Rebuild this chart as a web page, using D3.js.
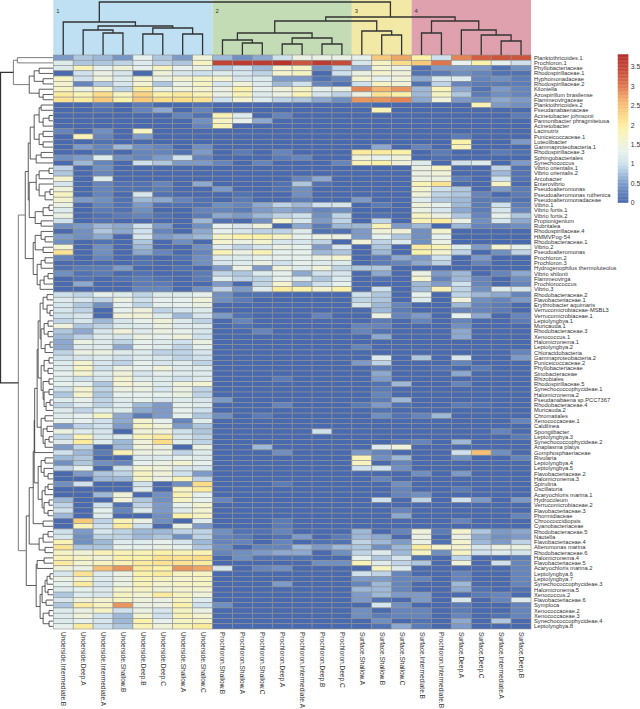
<!DOCTYPE html>
<html><head><meta charset="utf-8">
<script src="https://cdn.jsdelivr.net/npm/d3@7"></script>
<style>html,body{margin:0;padding:0;background:#fff}svg{display:block}text{font-family:"Liberation Sans",Arial,sans-serif;fill:#333}</style>
</head><body><div id="c"></div>
<script>
const colLabels=["Underside.Intermediate.B","Underside.Deep.A","Underside.Intermediate.A","Underside.Shallow.B","Underside.Deep.B","Underside.Deep.C","Underside.Shallow.A","Underside.Shallow.C","Prochloron.Shallow.B","Prochloron.Shallow.A","Prochloron.Shallow.C","Prochloron.Deep.A","Prochloron.Intermediate.A","Prochloron.Deep.B","Prochloron.Deep.C","Surface.Shallow.A","Surface.Shallow.B","Surface.Shallow.C","Surface.Intermediate.B","Prochloron.Intermediate.B","Surface.Deep.A","Surface.Deep.C","Surface.Intermediate.A","Surface.Deep.B"];
const rowLabels=["Planktothricoides.1","Prochloron.1","Phyllobacteriaceae","Rhodospirillaceae.1","Hyphomonadaceae","Rhodospirillaceae.2","Kiloniella","Azospirillum brasilense","Flammeovirgaceae","Planktothricoides.2","Pseudanabaenaceae","Acinetobacter johnsonii","Pannonibacter phragmitetusa","Acinetobacter","Lacinutrix","Puniceicoccaceae.1","Luteolibacter","Gammaproteobacteria.1","Rhodospirillaceae.3","Sphingobacteriales","Synechococcus","Vibrio orientalis.1","Vibrio orientalis.2","Arcobacter","Enterovibrio","Pseudoalteromonas","Pseudoalteromonas ruthenica","Pseudoalteromonadaceae","Vibrio.1","Vibrio fortis.1","Vibrio fortis.2","Propionigenium","Rubritalea","Rhodospirillaceae.4","HMMVPog-54","Rhodobacteraceae.1","Vibrio.2","Pseudoalteromonas","Prochloron.2","Prochloron.3","Hydrogenophilus thermoluteolus","Vibrio shilonii","Flammeovirga","Prochlorococcus","Vibrio.3","Rhodobacteraceae.2","Flavobacteriaceae.1","Erythrobacter aquimaris","Verrucomicrobiaceae-MSBL3","Verrucomicrobiaceae.1","Leptolyngbya.1","Muricauda.1","Rhodobacteraceae.3","Xenococcus.1","Halomicronema.1","Leptolyngbya.2","Chloracidobacteria","Gammaproteobacteria.2","Puniceicoccaceae.2","Phyllobacteriaceae","Sinobacteraceae","Rhizobiales","Rhodospirillaceae.5","Synechococcophycideae.1","Halomicronema.2","Pseudanabaena sp.PCC7367","Rhodobacteraceae.4","Muricauda.2","Chromatiales","Xenococcaceae.1","Caldilinea","Spongiibacter","Leptolyngbya.3","Synechococcophycideae.2","Anaplasma platys","Gomphosphaeriaceae","Rivularia","Leptolyngbya.4","Leptolyngbya.5","Flavobacteriaceae.2","Halomicronema.3","Spirulina","Oscillatoria","Acaryochloris marina.1","Hydrocoleum","Verrucomicrobiaceae.2","Flavobacteriaceae.3","Phormidiaceae","Chroococcidiopsis","Cyanobacteriaceae","Rhodobacteraceae.5","Nautella","Flavobacteriaceae.4","Alteromonas marina","Rhodobacteraceae.6","Halomicronema.4","Flavobacteriaceae.5","Acaryochloris marina.2","Leptolyngbya.6","Leptolyngbya.7","Synechococcophycideae.3","Halomicronema.5","Xenococcus.2","Flavobacteriaceae.6","Symploca","Xenococcaceae.2","Xenococcaceae.3","Synechococcophycideae.4","Leptolyngbya.8"];
const values=[
[.5,.8,.7,.45,1.3,.8,.5,1.5,.7,.4,.6,1,1.4,1.4,1.4,1.3,2.4,2.7,1.9,1,2.9,3.2,3.3,3.3],
[1.2,.8,.8,.9,1.2,.9,.8,1.7,3.5,3.6,3.6,3.7,3.3,3.6,3.4,1.1,1.7,2.2,2.4,3,1.3,1.9,1.3,1],
[1.2,1.8,1.3,1.5,1.3,1.7,1.3,1.4,.8,1,.7,1.6,1.7,.4,.9,.6,1.6,1.4,.1,.5,.5,.5,.1,.4],
[0,1,1.4,1.1,0,1.5,1.1,1,1.2,1.1,.9,1.6,1.7,0,1,1.4,1.6,1.5,.1,.2,.4,.3,.1,.1],
[1.7,1,1.5,1.2,1.6,1.4,1.6,1.7,1.6,1.1,1.2,.5,.5,.1,.3,1.6,1.3,1.5,.6,1.1,1.2,.3,.4,.2],
[1.6,.3,.8,1.1,1.6,.8,1.4,1.7,1.1,1.5,1.2,.7,1,.3,.1,1,1.7,1.5,.1,.9,.3,.2,.2,.2],
[1.7,1.4,1.6,.9,2,1.4,1.5,1.6,1.4,1.9,1.3,1.5,1.7,1.3,1.4,2.9,2.6,2.8,.7,1.8,.6,.1,.5,.3],
[2,1.8,2.2,1.7,2.3,1.9,2,1.8,1.4,1.8,1.2,1.4,1.8,1.1,.9,1.4,2.1,1.9,.7,1.7,.8,.2,.4,.3],
[2.1,2,2.4,1.9,2.4,2.2,2.2,2.1,1,1.6,1.2,.9,.8,.6,.4,2.8,2.8,2.9,.6,1.5,.5,.4,.6,.5],
[0,0,.2,0,.2,0,0,.1,0,0,0,0,0,0,0,.1,0,0,0,0,0,1.8,.5,.4],
[0,0,.1,0,.3,.6,0,.3,0,0,0,0,0,0,0,0,1.8,0,0,0,0,0,0,0],
[0,0,0,0,0,0,.3,.1,1.8,1.2,0,.3,0,0,0,0,0,0,0,0,0,0,0,.2],
[0,0,0,0,0,0,0,.4,1.7,1.3,.6,0,0,0,0,0,0,0,0,0,0,0,0,0],
[0,0,0,0,0,0,0,.3,1.8,0,0,0,0,0,0,0,0,0,0,0,0,0,0,0],
[.3,0,.4,0,1.7,0,0,0,0,0,0,0,0,0,0,0,0,0,0,0,0,0,0,0],
[0,1.8,.3,0,.5,0,0,0,0,0,0,0,0,0,0,0,0,0,0,0,.2,0,0,0],
[0,0,.1,0,0,0,0,0,0,0,0,0,0,0,0,0,0,0,0,0,1.9,0,0,.5],
[0,.5,.3,.7,.4,.3,0,.4,0,0,0,0,0,0,0,0,.6,0,.3,0,1.8,0,0,0],
[0,0,.2,0,.3,.3,.1,.5,0,.2,0,.3,0,0,0,2,2,1.9,0,.2,0,0,.2,.1],
[.4,.5,1.2,.4,.3,.5,1,.3,0,0,0,.2,.3,0,0,1.5,1.3,1.5,0,.1,0,0,0,0],
[0,.7,.3,0,1,.8,.5,.5,.3,0,.3,0,0,0,.3,1.8,1.9,1.5,1.2,0,1,1.2,0,.5],
[.9,0,.4,0,0,0,0,0,0,0,0,0,0,0,0,0,0,0,1.4,1.7,0,0,.9,.1],
[.8,0,.3,0,0,0,0,0,0,0,0,0,0,0,0,0,0,0,1.4,1.5,0,0,.7,.1],
[1.6,0,1.2,0,0,0,0,0,0,0,0,0,.3,.6,0,0,0,0,1.4,1.4,.2,0,1,.1],
[1.1,0,.3,.1,.1,.3,0,.6,0,0,0,.1,.8,.1,0,0,0,0,1.8,2.1,0,0,1.7,0],
[1.5,0,.3,.1,.1,.2,0,0,.5,0,0,.1,.4,0,0,0,0,0,1.6,1,.8,0,.5,.2],
[1.7,0,.3,0,1.1,.1,0,0,0,.1,0,0,.4,0,0,0,0,0,1.5,.9,.8,.3,0,.2],
[1.6,.5,.4,.1,.7,.6,.3,.1,0,.2,0,0,.2,0,0,.5,0,0,1.2,.8,.7,.2,.2,.1],
[1.4,0,.3,.1,.5,.1,.1,.1,.4,.3,.6,.9,.7,1,1.1,0,.2,0,1.5,1.3,.7,.2,1,.2],
[1.2,0,.2,.1,.4,0,0,.3,.3,.2,.5,.6,.5,.3,.4,0,0,0,1.4,1.1,.6,.2,1.1,.3],
[1.4,0,.1,.2,.3,.1,0,.2,.6,.5,.7,.9,1,.4,.9,0,.1,0,1.7,1.4,.8,.3,1.3,.8],
[1,0,.1,0,0,0,0,.7,.1,0,.4,1.6,1.1,.5,.9,0,.9,0,1.8,2,1.4,.4,1.1,.6],
[.4,.5,.7,.6,1,.5,0,.4,1.3,1.1,1.5,0,.6,.2,.7,.7,1.8,.5,.7,0,.7,.3,.3,.4],
[0,.4,.8,.6,1,.3,0,.6,1.3,1.1,.9,.9,1.2,.1,.1,.5,1.5,1.5,.4,1.6,0,0,0,0],
[.5,.4,.6,0,1.1,.5,.6,.7,1.7,1.9,1.9,1.7,1.3,1.4,1.4,.5,1.3,.8,.4,1.3,0,0,0,0],
[.4,0,.1,0,.8,0,.4,0,1.6,1.4,1.6,1.1,1.1,.9,0,1.5,.9,1.2,.4,1.4,0,0,0,0],
[1.6,0,.4,0,.7,0,0,.4,1.2,.9,1.1,1.4,1.3,.5,1.1,0,.8,0,2,1.8,1.2,.5,1.6,1.3],
[2.1,0,.4,0,.6,.3,0,.3,1.8,1.4,1.8,1.3,1.3,.7,.8,0,.7,0,1.9,1.6,.9,0,.4,.9],
[.3,0,.3,0,.1,0,.1,.4,1.2,1.2,1.3,1.3,1.3,1.4,1.6,0,.2,.6,.5,1,0,.5,0,0],
[0,0,0,0,.1,0,0,.4,1.1,1.2,1.4,1,1.3,1.2,1.2,0,.2,.3,.6,.9,0,.3,0,0],
[.1,.2,.2,.5,0,0,.1,0,.5,1.4,.5,1.5,1.2,1.5,.9,.8,.8,0,0,0,0,0,0,0],
[.4,.1,.2,0,.1,0,0,.2,.9,.8,1.2,1.3,.6,1,1.1,0,.6,0,1.4,.5,.7,0,.3,.6],
[0,.1,0,.1,.2,.1,0,.2,1.2,.9,.9,1.3,1.2,.8,1.2,0,.1,0,1.6,.3,.7,.3,0,.4],
[0,.6,0,0,.2,.2,0,0,.5,0,.9,1.6,.7,1,1.3,0,0,0,.7,.5,1,.3,0,.3],
[0,0,0,0,.3,.3,0,.4,.9,.5,1.2,2,1.9,1.6,1.9,0,1,0,.7,1.8,.9,.4,1.2,1.1],
[1,.9,1.3,1.2,.9,1.2,1.2,1.3,.4,.1,.1,0,0,0,0,1,.8,0,1.3,0,.9,.7,.6,.3],
[1.2,1.1,.9,1.4,1,1.3,1.3,1.5,.4,.2,0,0,0,0,0,.9,.8,0,1.2,0,1.5,.4,.3,.5],
[1.1,.8,.4,1.3,.9,1.3,1.3,1.4,0,0,0,0,0,0,0,1.1,.7,.3,0,0,.7,.3,.2,0],
[1.1,.9,0,1.3,1.5,.9,1.1,1.2,0,0,0,0,0,0,0,0,.7,.2,0,0,.3,.3,.2,0],
[1,1.1,0,1.5,1.5,1.2,.7,1.1,.5,.1,0,0,0,.3,0,0,1.4,.3,.5,0,1.3,.6,0,.3],
[.9,1.1,.7,1.1,1.3,1.5,1.2,.9,0,.3,0,0,0,0,0,0,.2,0,.3,0,.3,0,0,.2],
[1.5,.8,.9,1.2,1.2,1.4,1.2,1.2,0,.1,0,0,0,0,0,.3,.3,0,0,0,.4,0,0,0],
[.8,.6,1.1,1.5,1.2,1.4,1.3,1.1,0,0,.3,0,0,0,0,.3,.1,0,0,0,.6,0,0,0],
[.7,.9,1.2,1.1,1.4,1.3,1.5,1,0,0,0,0,0,0,0,0,.6,0,0,0,.6,0,0,0],
[.6,1.4,1.2,.9,1.3,1.2,1,1.4,0,0,0,0,0,0,0,0,0,0,0,0,0,0,0,0],
[.6,1.2,1.2,.6,1.3,1.2,.9,1.3,0,0,0,0,0,0,0,.3,0,0,0,0,0,0,0,0],
[.9,1.4,1.4,1.2,1.2,.9,.9,1.1,0,0,0,0,0,0,0,0,0,0,0,0,0,0,0,.3],
[1,1.1,1.2,1,1.2,1.1,.9,1,0,0,0,0,0,0,0,0,1.2,0,.8,0,1.1,0,0,.5],
[1.2,1.6,1.1,.9,1.3,1.1,1.2,.9,0,0,0,0,0,0,0,.5,.9,0,0,0,.3,0,0,0],
[1.2,1.7,1,1.4,1.3,1.5,1.2,1.2,0,0,0,0,0,0,0,0,.2,0,0,.1,0,.2,0,0],
[1.3,1.6,1.2,1.5,1.1,1.3,1.2,1.2,0,0,0,0,0,0,0,0,.6,0,0,0,.6,0,0,0],
[1.2,1,1.1,1.6,1.2,1.2,1,1.2,0,0,0,.2,0,0,0,0,.5,0,0,0,0,0,0,0],
[1.3,1.3,.8,1.6,1.4,1.2,1.5,1.6,0,0,0,0,0,0,0,0,.1,.7,0,0,.3,0,0,0],
[1,1.6,.9,1.4,1.4,1.1,1.4,.9,0,0,0,0,0,0,0,0,.2,0,0,0,0,0,0,0],
[.8,1.6,.8,1.3,1.3,1.3,1.4,.9,0,0,0,0,0,0,0,0,.3,0,0,0,0,0,0,0],
[1.2,1.3,.9,1.2,1.3,1.1,1.2,1.1,.5,0,0,0,0,0,0,0,.2,.7,0,0,0,0,0,0],
[.9,1.2,.9,1.2,.7,.5,1.3,1.2,0,0,0,.3,0,0,0,.2,.5,.1,0,0,.2,.1,0,0],
[1.2,.9,1.2,1.2,.6,.5,1.3,1,0,0,0,0,0,0,0,0,.1,0,0,0,0,0,0,0],
[1.2,1.3,1.7,.6,.2,.5,1.3,.8,.4,0,.2,0,0,0,0,0,.4,.1,.3,.7,0,0,0,0],
[1.3,1.3,1,.6,1.6,1.3,.3,1.2,0,0,0,0,0,0,0,0,0,0,0,0,0,0,0,.3],
[.5,.9,1,.5,1.7,1.5,.5,.8,0,0,0,0,0,0,0,0,0,0,0,0,0,0,0,0],
[1.4,1.2,1.1,0,1.5,1.5,1,.8,0,0,0,0,0,1,0,0,0,0,0,0,0,0,.3,0],
[.9,1.8,1.1,1.2,1.8,2,1.1,.9,0,0,0,0,0,0,0,0,0,0,0,0,0,0,0,.2],
[1.2,2,1.2,.7,1.5,2.2,1.2,.9,0,0,0,0,0,0,0,0,0,.2,.3,0,.7,0,0,0],
[.5,.9,0,.7,1.5,1.4,0,1.4,0,0,.7,0,0,0,0,0,1.2,1.5,0,0,0,0,0,0],
[1,.7,.2,1.8,1.4,1.4,.9,1.2,0,0,0,.4,0,0,0,.5,.3,0,0,0,1,2.5,.4,0],
[.7,.8,0,0,1.2,1.2,1.3,1.2,0,0,0,0,0,0,0,1.8,.4,.7,0,0,.4,0,0,.3],
[.4,.8,.4,.3,1.3,1.4,1.6,1.3,0,0,0,0,0,0,0,1.7,0,.3,0,0,0,0,0,0],
[.9,1.3,0,1,1.6,1.5,1.1,1.1,0,0,0,0,0,0,0,1,1,.4,0,0,0,0,0,0],
[0,.5,.8,.9,1.7,1.5,1,.5,0,0,0,0,0,0,0,0,0,0,.4,0,.5,0,0,0],
[0,0,.7,.7,1.7,1.4,1.8,.9,0,0,0,0,0,0,0,0,.3,0,0,0,0,0,0,0],
[.4,1,0,0,1,0,.4,2.2,0,0,0,.2,0,0,0,0,0,.4,0,0,0,0,0,0],
[0,0,0,0,1.2,0,1.7,2,0,0,0,0,0,0,0,0,0,.3,0,0,.2,0,0,0],
[0,0,.7,1.5,0,.4,1.8,1.3,0,0,0,0,0,0,0,0,0,.3,.4,0,0,0,0,0],
[.7,0,0,1.5,.8,.4,1.7,1.3,.3,0,0,0,0,0,0,0,1,0,.9,0,1,.5,0,.5],
[.9,0,1,.1,.9,.5,1.3,1.6,0,0,0,0,0,0,0,0,0,0,0,0,0,0,0,0],
[1,0,1.3,.3,1.2,.5,1.2,1.6,0,0,0,0,0,0,0,0,0,.3,0,0,0,0,0,0],
[.7,0,1.2,0,0,.4,1.9,1.7,0,0,0,0,0,0,0,0,0,.6,0,0,0,0,0,.3],
[0,2.4,.9,1.8,1.4,.4,0,1.2,0,0,0,.2,0,0,0,0,0,0,0,0,.3,0,0,0],
[0,1.8,1,2,1,0,1.4,.5,0,0,0,.2,0,0,0,0,0,0,0,0,0,0,0,0],
[1,.5,1.1,.9,.7,.7,.9,.9,.4,.1,.1,.3,0,0,0,.7,0,.3,1.5,.2,1.6,.8,.5,.6],
[1.1,.4,.9,.9,.7,.8,.4,.9,.3,.2,0,.1,.5,0,.2,.7,.6,0,1.4,0,1.4,.6,.4,.5],
[1.8,.4,.7,1.2,1.2,1.3,1.1,.7,.3,.3,0,.3,0,.1,.1,.9,.7,.5,1.4,.1,1.6,.7,.5,.9],
[2.1,.8,.8,1.3,1.3,1.4,1.3,.8,.4,0,.3,.3,.7,.5,.7,.8,.4,.7,2,1.6,1.6,1.1,1.4,1.4],
[1.7,1.5,1.8,1.8,1.8,1.9,1.8,1.8,.3,.4,.5,.6,.6,0,.4,.9,1.2,.7,1.7,.4,1.7,1,1.2,1.1],
[1.8,1.7,1.5,1.9,1.9,2.1,2.1,2.2,0,.4,.1,.1,.1,0,0,1.3,.8,1.1,.1,0,.9,0,0,.2],
[2,1.6,1.7,1.8,2,2.1,2.1,2,0,0,0,0,0,.4,.4,1.8,1.2,.9,.8,0,1.5,0,1,.3],
[1.5,1.4,2.5,2.8,2,1.9,2.8,2.7,1.1,0,.3,.4,0,0,0,0,1.7,1.2,0,0,0,0,0,.3],
[1.1,2.1,1.2,1.4,1.9,2,1.7,1.7,0,0,0,0,0,0,0,1,.9,.3,0,0,.3,0,0,.3],
[1.4,1.6,1.2,1.4,1.8,1.7,1.6,1.7,0,0,0,0,0,0,0,.5,.5,.3,.3,0,.3,0,0,.3],
[1.3,2,1.1,1.4,1.8,1.6,1.7,1.7,0,0,0,.5,0,0,0,.3,.7,.3,0,0,.7,0,0,.3],
[1.2,1.3,1.2,1.6,1.7,1.5,1.6,1.6,0,0,0,0,0,0,0,.7,.7,.3,0,0,.6,.1,0,.1],
[.8,1.2,1.1,1.7,1.6,2,1.7,1.5,0,0,0,0,0,0,0,.5,.7,.5,.5,0,0,.2,.3,0],
[1.1,1.5,1.6,1.7,1.5,1.4,1.7,1.2,0,0,0,0,0,0,0,.5,.1,0,.5,0,1.1,0,.3,1.2],
[.8,2,1.7,2.8,1.4,1.4,1.9,1,.4,0,0,0,0,0,0,0,1.1,.4,0,0,.2,0,0,.3],
[1.2,1.4,1.7,1,1.4,1.1,1.7,1.4,0,0,0,0,0,0,0,.4,0,.3,.3,0,.2,0,0,.3],
[1.2,1.5,1,.7,1.6,1,1.8,1.6,0,0,0,0,0,0,0,.4,.2,.3,.3,0,.3,0,.1,.3],
[1.2,1.3,1.1,.7,1.9,1.3,1.7,1.7,0,0,0,0,0,0,0,0,.4,0,.1,0,.6,0,.8,0],
[1.3,2,1,.8,1.8,1.5,1.8,2,0,0,0,0,0,0,0,0,.1,.6,.2,0,.5,0,0,0]
];
// dendrograms: [merge height, child, child]; a leaf is a 1-based index
const colTree=[53,[33,1,[29,[25,2,[22,3,4]],[27,[21,5,6],[21,7,8]]]],[38,[34,[22,[15,9,[12,10,11]],[17,[11,12,13],[11,14,15]]],[24,16,[20,17,18]]],[34,[22,19,20],[25,21,[20,22,[14,23,24]]]]]];
const c10_21=[23,[19,[14,[12,10,11],[10,[4,12,13],14]],[14,[10,15,16],[10,17,18]]],[17,[12,19,20],21]];
const c22_33=[24,[17,[14,[4,22,23],24],[14,25,[8,[3,26,27],28]]],[18,[10,[4,29,30],31],[12,32,33]]];
const c34_45=[20,[18,[12,34,[8,35,36]],[10,37,38]],[16,[12,[8,39,40],41],[13,[9,[5,42,43],44],45]]];
const c46_68=[15,[13,[10,[6,46,47],[6,48,[3,49,50]]],[12,[9,[5,51,52],[5,53,54]],[8,[3,55,56],57]]],[12,[9,[4,58,59],[5,60,61]],[10,[4,62,63],[9,[4,64,65],[7,[3,66,67],68]]]]];
const c69_75=[12,[8,69,70],[10,[6,71,72],[8,[4,73,74],75]]];
const c77_88=[15,[12,[8,77,78],[9,79,[5,80,81]]],[11,[8,[5,82,83],84],[9,[4,85,86],[5,87,88]]]];
const c91_95=[14,[10,[5,91,92],93],[8,94,95]];
const c99_109=[13,[11,[8,[6,[3,99,100],101],[5,102,103]],[7,104,105]],[10,[4,106,107],[4,108,109]]];
const rowTree=[53,[40,[36,1,2],[24,[19,[14,3,4],[10,5,6]],[14,7,[10,8,9]]]],
 [35,[28,[25,c10_21,c22_33],c34_45],
  [27,[24,[20,[19,[18.5,[16,c46_68,c69_75],76],c77_88],[10,89,90]],c91_95],[17,[16,[9,96,97],98],c99_109]]]];
const groups=[{name:"1",from:0,to:8,fill:"#bfdff2"},{name:"2",from:8,to:15,fill:"#c4dcb6"},{name:"3",from:15,to:18,fill:"#f3e9a6"},{name:"4",from:18,to:24,fill:"#dfa1ae"}];
const legendTicks=[0,.5,1,1.5,2,2.5,3,3.5];
const colorStops=[0,.25,.5,.75,1,1.3,1.6,1.9,2.2,2.6,3,3.4,3.8];
const colorRange=["#4a6aaf","#5f80b9","#7d9ac8","#a6c0dc","#cee1ec","#e6f0ec","#f4f3cf","#fbf2aa","#fbdc88","#f4b56e","#de754d","#c64a38","#b32e2a"];

const W=640,H=709;
const svg=d3.select("#c").append("svg").attr("width",W).attr("height",H);
const x=d3.scaleBand().domain(d3.range(24)).range([53.3,531]);
const y=d3.scaleBand().domain(d3.range(109)).range([55,629]);
const color=d3.scaleLinear().domain(colorStops).range(colorRange).clamp(true);

// cluster backgrounds
svg.append("g").selectAll("rect").data(groups).join("rect")
 .attr("x",d=>x(d.from)).attr("y",0).attr("width",d=>x(d.to-1)+x.bandwidth()-x(d.from)).attr("height",55).attr("fill",d=>d.fill);
svg.append("g").selectAll("text").data(groups).join("text")
 .attr("x",d=>x(d.from)+3).attr("y",13).attr("font-size",6).text(d=>d.name);

// heat cells
svg.append("g").selectAll("g").data(values).join("g").attr("transform",(d,i)=>`translate(0,${y(i)})`)
 .selectAll("rect").data(d=>d).join("rect")
 .attr("x",(d,j)=>x(j)).attr("width",x.bandwidth()).attr("height",y.bandwidth())
 .attr("fill",d=>color(d)).attr("stroke","#8f9192").attr("stroke-width",.6);

// dendrograms
function drawTree(tree,leafPos,hPos,horizontal,dark){
 const g=svg.append("g").attr("fill","none");
 function walk(n){
  if(typeof n==="number")return {p:leafPos(n-1),h:0};
  const a=walk(n[1]),b=walk(n[2]),h=n[0];
  const pts=[[a.p,a.h],[a.p,h],[b.p,h],[b.p,b.h]].map(([p,v])=>horizontal?[p,hPos(v)]:[hPos(v),p]);
  const mid=!horizontal&&h>=30&&h<dark;
  g.append("path").attr("d",d3.line()(pts))
   .attr("stroke",mid?"#7d7d7d":"#333")
   .attr("stroke-width",h>=dark?1.3:(mid?1:.8));
  return {p:(a.p+b.p)/2,h};
 }
 walk(tree);
}
drawTree(colTree,i=>x(i)+x.bandwidth()/2,d3.scaleLinear().domain([0,53]).range([55,2]),true,0);
drawTree(rowTree,i=>y(i)+y.bandwidth()/2,d3.scaleLinear().domain([0,53]).range([53,.5]),false,50);

// labels
svg.append("g").selectAll("text").data(rowLabels).join("text")
 .attr("x",534).attr("y",(d,i)=>y(i)+y.bandwidth()/2).attr("dy","0.35em")
 .attr("font-size",5.75).text(d=>d);
svg.append("g").selectAll("text").data(colLabels).join("text")
 .attr("transform",(d,i)=>`translate(${x(i)+x.bandwidth()/2-2},632) rotate(90)`)
 .attr("font-size",6.55).text(d=>d);

// legend
const ly=d3.scaleLinear().domain([0,3.5]).range([202.5,66.7]);
const lg=svg.append("g");
const lVals=d3.range(0,3.82,.02);
lg.selectAll("rect").data(lVals).join("rect")
 .attr("x",617.8).attr("width",10.5).attr("y",d=>ly(d)-.8).attr("height",1.1).attr("fill",d=>color(d));
lg.append("g").attr("transform","translate(628.3,0)")
 .call(d3.axisRight(ly).tickValues(legendTicks).tickSize(0).tickPadding(2.5).tickFormat(d3.format("~g")))
 .call(s=>s.select(".domain").remove())
 .call(s=>s.selectAll("text").attr("font-size",6.8).attr("font-family",'"Liberation Sans",Arial,sans-serif'));
</script></body></html>
